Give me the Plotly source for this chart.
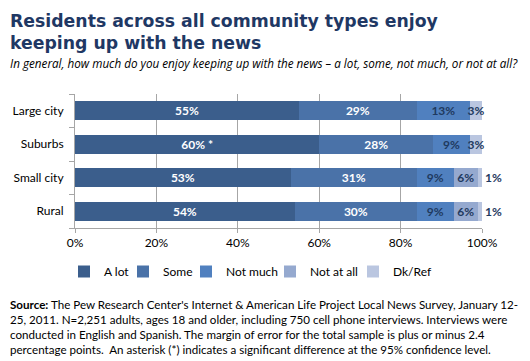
import plotly.graph_objects as go

categories = ["Large city", "Suburbs", "Small city", "Rural"]
series_names = ["A lot", "Some", "Not much", "Not at all", "Dk/Ref"]
a_lot = [55, 60, 53, 54]
some = [29, 28, 31, 30]
not_much = [13, 9, 9, 9]
not_at_all = [0, 0, 6, 6]
dk_ref = [3, 3, 1, 1]
a_lot_labels = ["55%", "60% *", "53%", "54%"]
x_ticks = [0, 20, 40, 60, 80, 100]
x_tick_labels = ["0%", "20%", "40%", "60%", "80%", "100%"]

colors = ["#3B5E8C", "#4A72A8", "#5080BF", "#95A9CF", "#BAC6E0"]
legend_widths = [14, 18, 39, 38, 38]
navy = "#1F3A60"
FONT = "Lato"

# the page body adds an 8px offset; work in window pixels and convert
OFF = 8
W, H = 530 - OFF, 361 - OFF
PL, PR, PT, PB = 75, 482, 94, 228  # plot area in window pixels
ML, MR, MT, MB = PL - OFF, W - (PR - OFF), PT - OFF, H - (PB - OFF)


def py(pix):
    return (PB - pix) / (PB - PT)


def px(pix):
    return (pix - PL) / (PR - PL)


series = [a_lot, some, not_much, not_at_all, dk_ref]
fig = go.Figure()
for i, (name, vals) in enumerate(zip(series_names, series)):
    if i == 0:
        texts = [f"<b>{t}</b>" for t in a_lot_labels]
    else:
        texts = [f"<b>{v}%</b>" if v > 0 else "" for v in vals]
    tcol = "white" if i < 2 else navy
    if i == 4:
        tpos = ["inside" if v >= 3 else "outside" for v in vals]
    else:
        tpos = "inside"
    fig.add_trace(go.Bar(
        name=name, y=categories, x=vals, orientation="h",
        marker=dict(color=colors[i], line=dict(width=0)),
        text=texts, textposition=tpos, insidetextanchor="middle", textangle=0,
        textfont=dict(color=tcol, size=12, family=FONT),
        outsidetextfont=dict(color=navy, size=12, family=FONT),
        cliponaxis=False, hoverinfo="skip", legendwidth=legend_widths[i],
    ))

fig.update_layout(
    barmode="stack", bargap=0.43,
    width=W, height=H,
    margin=dict(l=ML, r=MR, t=MT, b=MB, autoexpand=False),
    paper_bgcolor="white", plot_bgcolor="white",
    font=dict(family=FONT, size=12, color="black"),
    uniformtext=dict(mode="show", minsize=12),
    showlegend=True,
    legend=dict(orientation="h", x=px(250), xanchor="center", xref="paper",
                y=py(257), yanchor="top",
                font=dict(size=12, family=FONT), itemwidth=30, traceorder="normal",
                itemclick=False),
    xaxis=dict(range=[0, 100], tickvals=x_ticks, ticktext=x_tick_labels,
               showgrid=True, gridcolor="#A6A6A6", gridwidth=1,
               showline=True, linecolor="#A6A6A6", ticks="outside", ticklen=4,
               tickcolor="#A6A6A6", zeroline=False, fixedrange=True,
               tickfont=dict(size=12, family=FONT)),
    yaxis=dict(categoryorder="array", categoryarray=categories[::-1],
               showline=True, linecolor="#A6A6A6", ticks="outside", ticklen=5,
               tickcolor="#A6A6A6", tickson="boundaries", showgrid=False,
               ticklabelstandoff=8,
               tickfont=dict(size=12, family=FONT), fixedrange=True),
)

anns = [
    dict(text="<b>Residents across all community types enjoy<br>keeping up with the news</b>",
         x=px(OFF), y=py(OFF + 1), xanchor="left", yanchor="top", align="left",
         font=dict(family="DejaVu Sans", size=17.3, color="#1F3864")),
    dict(text="<i>In general, how much do you enjoy keeping up with the news \u2013 a lot, some, not much, or not at all?</i>",
         x=px(OFF), y=py(53), xanchor="left", yanchor="top", align="left",
         font=dict(family="Open Sans", size=11.7, color="black")),
    dict(text="<b>Source:</b> The Pew Research Center's Internet & American Life Project Local News Survey, January 12-<br>"
              "25, 2011. N=2,251 adults, ages 18 and older, including 750 cell phone interviews. Interviews were<br>"
              "conducted in English and Spanish. The margin of error for the total sample is plus or minus 2.4<br>"
              "percentage points.  An asterisk (*) indicates a significant difference at the 95% confidence level.",
         x=px(OFF), y=py(296), xanchor="left", yanchor="top", align="left",
         font=dict(family=FONT, size=11.6, color="black")),
]
for a in anns:
    a.update(xref="paper", yref="paper", showarrow=False)
fig.update_layout(annotations=anns)

fig.write_html("out.html")
